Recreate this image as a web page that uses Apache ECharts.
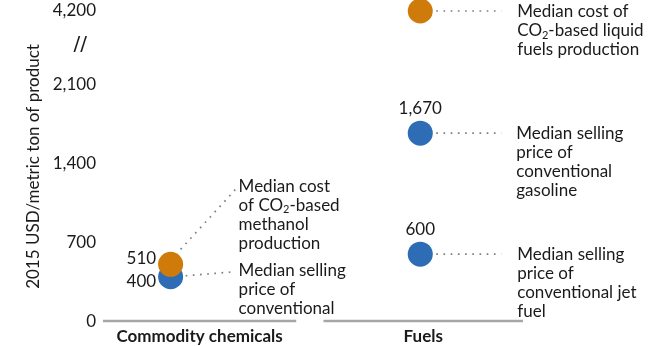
<!DOCTYPE html>
<html>
<head>
<meta charset="utf-8">
<script src="https://cdn.jsdelivr.net/npm/echarts@6/dist/echarts.min.js"></script>
<style>
  html, body { margin: 0; padding: 0; background: #ffffff; }
  #chart { width: 660px; height: 346px; }
</style>
</head>
<body>
<div id="chart"></div>
<script>
// Product groups along the horizontal axis
const categories = ['Commodity chemicals', 'Fuels'];

// Median cost of CO2-based production, 2015 USD per metric ton
const co2Group = [0, 1];
const co2Cost = [510, 4200];
const co2ShowValue = [true, false];
const co2Notes = [
  'Median cost\nof CO{sub|2}-based\nmethanol\nproduction',
  'Median cost of\nCO{sub|2}-based liquid\nfuels production'
];

// Median selling price of the conventional product, 2015 USD per metric ton
const convGroup = [0, 1, 1];
const convPrice = [400, 1670, 600];
const convNotes = [
  'Median selling\nprice of\nconventional',
  'Median selling\nprice of\nconventional\ngasoline',
  'Median selling\nprice of\nconventional jet\nfuel'
];

// Vertical axis ticks; the axis is broken between 2,100 and 4,200
const yTicks = [0, 700, 1400, 2100, 4200];
const axisBreakFrom = 2100;
const axisBreakTo = 4200;

// ---- layout -------------------------------------------------------------
const FONT = 'Lato';
const FS = 17;
const TEXT = '#1a1a1a';
const ORANGE = '#cf7b0c';
const BLUE = '#2e6db5';
const DISPLAY_TOP = 2750;          // where 4,200 sits on the compressed axis
const BREAK_MARK = 2450;           // where the "//" sign sits
const NOTE_LINE_H = 19;

// Horizontal extent of each group's base line (x-axis units) and marker spot
const groupSpan = [[0, 0.92], [1.05, 2]];
const markerAt = [0.35, 0.485];

// Leader line and note placement, offsets from the marker centre in pixels
const co2Layout = [
  { from: [10, -15], to: [65, -75], at: [68, -78] },
  { from: [16, 0], to: [81, 0], at: [97, 1] }
];
const convLayout = [
  { from: [15, -1], to: [64, -5], at: [68, -6] },
  { from: [16, 0], to: [81, 0], at: [96, 0] },
  { from: [16, 0], to: [81, 0], at: [97, 0] }
];
// Value labels of the close pair on the left are pushed apart vertically
const co2LabelShift = [-6, 0];
const convLabelShift = [5, 0, 0];

// Map a real value to the broken axis: linear up to the break, compressed above it
function toAxis(v) {
  if (v <= axisBreakFrom) return v;
  return axisBreakFrom + (v - axisBreakFrom) * (DISPLAY_TOP - axisBreakFrom) / (axisBreakTo - axisBreakFrom);
}
const fmt = v => v.toLocaleString('en-US');
const markerX = g => groupSpan[g][0] + (groupSpan[g][1] - groupSpan[g][0]) * markerAt[g];
const groupCentre = g => (groupSpan[g][0] + groupSpan[g][1]) / 2;

const valueLabel = (g, dy) => g === 0
  ? { show: true, position: 'left', distance: 2, offset: [0, dy] }
  : { show: true, position: 'top', distance: 4 };

const convData = convPrice.map((v, i) => ({
  value: [markerX(convGroup[i]), toAxis(v)],
  label: valueLabel(convGroup[i], convLabelShift[i])
}));
const co2Data = co2Cost.map((v, i) => ({
  value: [markerX(co2Group[i]), toAxis(v)],
  label: co2ShowValue[i] ? valueLabel(co2Group[i], co2LabelShift[i]) : { show: false }
}));

// Notes with their leader lines, one entry per marker
const notes = [];
co2Cost.forEach((v, i) => notes.push({ x: markerX(co2Group[i]), y: toAxis(v), text: co2Notes[i], lay: co2Layout[i] }));
convPrice.forEach((v, i) => notes.push({ x: markerX(convGroup[i]), y: toAxis(v), text: convNotes[i], lay: convLayout[i] }));

// Axis label values in axis units
const yLabelValues = yTicks.map(toAxis).concat([BREAK_MARK]);
function yLabel(val) {
  if (Math.abs(val - BREAK_MARK) < 1) return '{brk|//}';
  const i = yTicks.findIndex(t => Math.abs(toAxis(t) - val) < 1);
  return i >= 0 ? fmt(yTicks[i]) : '';
}
const xLabelValues = categories.map((c, g) => groupCentre(g));
function xLabel(val) {
  const g = xLabelValues.findIndex(c => Math.abs(c - val) < 1e-6);
  return g >= 0 ? categories[g] : '';
}

const chart = echarts.init(document.getElementById('chart'));

chart.setOption({
  animation: false,
  backgroundColor: '#ffffff',
  textStyle: { fontFamily: FONT },
  grid: { left: 103, right: 137, top: 11, bottom: 24 },
  xAxis: {
    type: 'value',
    min: 0,
    max: 2,
    axisLine: { show: false },
    axisTick: { show: false },
    splitLine: { show: false },
    axisLabel: {
      customValues: xLabelValues,
      formatter: xLabel,
      margin: 6,
      fontFamily: FONT,
      fontSize: FS,
      fontWeight: 'bold',
      color: TEXT
    }
  },
  yAxis: {
    type: 'value',
    min: 0,
    max: DISPLAY_TOP,
    name: '2015 USD/metric ton of product',
    nameLocation: 'middle',
    nameRotate: 90,
    nameGap: 54,
    nameTextStyle: { fontFamily: FONT, fontSize: FS, color: TEXT },
    axisLine: { show: false },
    axisTick: { show: false },
    splitLine: { show: false },
    axisLabel: {
      customValues: yLabelValues,
      formatter: yLabel,
      margin: 7,
      fontFamily: FONT,
      fontSize: FS,
      color: TEXT,
      rich: { brk: { fontFamily: 'DejaVu Sans', fontSize: 20, color: TEXT, padding: [0, 9, 0, 0] } }
    }
  },
  series: [
    {
      // Grey base line under each product group
      type: 'custom',
      name: 'groups',
      clip: false,
      silent: true,
      data: categories.map((c, g) => groupSpan[g]),
      renderItem: (params, api) => {
        const a = api.coord([api.value(0), 0]);
        const b = api.coord([api.value(1), 0]);
        return {
          type: 'line',
          shape: { x1: a[0], y1: a[1] - 1, x2: b[0], y2: b[1] - 1 },
          style: { stroke: '#a6a6a6', lineWidth: 2.5 }
        };
      },
      z: 1
    },
    {
      type: 'custom',
      name: 'notes',
      clip: false,
      silent: true,
      data: notes.map(n => [n.x, n.y]),
      renderItem: (params, api) => {
        const n = notes[params.dataIndex];
        const p = api.coord([api.value(0), api.value(1)]);
        return {
          type: 'group',
          children: [
            {
              type: 'line',
              shape: {
                x1: p[0] + n.lay.from[0], y1: p[1] + n.lay.from[1],
                x2: p[0] + n.lay.to[0], y2: p[1] + n.lay.to[1]
              },
              style: { stroke: '#808080', lineWidth: 1.7, lineDash: [1.7, 5.5] }
            },
            {
              type: 'text',
              x: p[0] + n.lay.at[0],
              y: p[1] + n.lay.at[1] - NOTE_LINE_H / 2,
              style: {
                text: n.text,
                fill: TEXT,
                fontFamily: FONT,
                fontSize: FS,
                lineHeight: NOTE_LINE_H,
                align: 'left',
                verticalAlign: 'top',
                rich: {
                  sub: { fontFamily: FONT, fontSize: 11, lineHeight: 11, verticalAlign: 'bottom', fill: TEXT }
                }
              }
            }
          ]
        };
      },
      z: 2
    },
    {
      type: 'scatter',
      name: 'Median selling price of conventional product',
      clip: false,
      symbol: 'circle',
      symbolSize: 25,
      itemStyle: { color: BLUE, opacity: 1 },
      label: {
        fontFamily: FONT,
        fontSize: FS,
        color: TEXT,
        formatter: p => fmt(convPrice[p.dataIndex])
      },
      data: convData,
      z: 3
    },
    {
      type: 'scatter',
      name: 'Median cost of CO2-based production',
      clip: false,
      symbol: 'circle',
      symbolSize: 25,
      itemStyle: { color: ORANGE, opacity: 1 },
      label: {
        fontFamily: FONT,
        fontSize: FS,
        color: TEXT,
        formatter: p => fmt(co2Cost[p.dataIndex])
      },
      data: co2Data,
      z: 4
    }
  ]
});
</script>
</body>
</html>
